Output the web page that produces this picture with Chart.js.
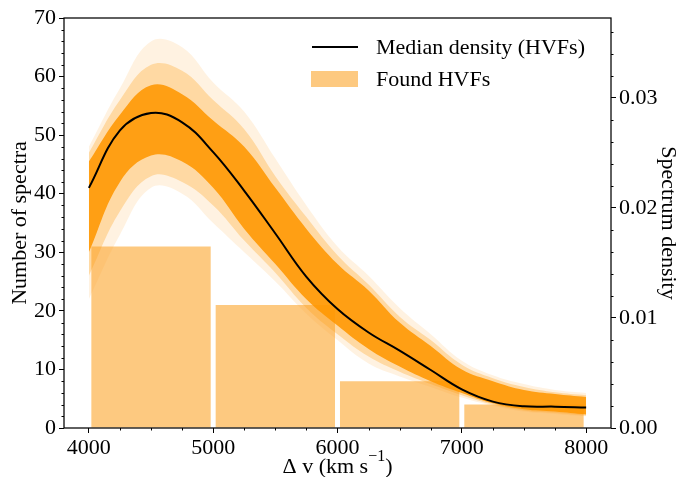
<!DOCTYPE html>
<html>
<head>
<meta charset="utf-8">
<script src="https://cdn.jsdelivr.net/npm/chart.js@4"></script>
<style>
  body { margin: 0; background: #fff; }
</style>
</head>
<body>
<canvas id="hvfChart" width="681" height="477"></canvas>
<script>
// Histogram of found HVFs (counts per 1000 km/s bin)
const binCenters = [4500, 5500, 6500, 7500];
const binCounts = [31, 21, 8, 4];

// Density curves sampled every 250 km/s (right axis)
const velGrid = [4000, 4250, 4500, 4750, 5000, 5250, 5500, 5750, 6000, 6250, 6500, 6750, 7000, 7250, 7500, 7750, 8000];
const medianDensity = [0.02183, 0.02705, 0.02864, 0.02779, 0.02508, 0.02156, 0.01768, 0.01374, 0.01081, 0.00868, 0.00703, 0.00527, 0.00351, 0.00240, 0.00197, 0.00194, 0.00186];
// dense core of the bootstrap curves
const coreUpper = [0.02422, 0.02848, 0.03115, 0.03035, 0.02795, 0.02556, 0.02183, 0.01810, 0.01491, 0.01251, 0.00958, 0.00745, 0.00532, 0.00426, 0.00346, 0.00309, 0.00282];
const coreLower = [0.01597, 0.02236, 0.02476, 0.02422, 0.02183, 0.01810, 0.01491, 0.01171, 0.00932, 0.00719, 0.00559, 0.00426, 0.00319, 0.00224, 0.00170, 0.00149, 0.00122];
// medium density zone
const midUpper = [0.02502, 0.02981, 0.03301, 0.03248, 0.02981, 0.02715, 0.02289, 0.01917, 0.01571, 0.01304, 0.01012, 0.00799, 0.00575, 0.00453, 0.00373, 0.00325, 0.00298];
const midLower = [0.01384, 0.01970, 0.02289, 0.02236, 0.02023, 0.01704, 0.01411, 0.01091, 0.00852, 0.00650, 0.00511, 0.00399, 0.00298, 0.00213, 0.00160, 0.00138, 0.00112];
// faint outliers
const outerUpper = [0.02556, 0.03088, 0.03514, 0.03461, 0.03141, 0.02875, 0.02449, 0.02023, 0.01650, 0.01384, 0.01091, 0.00852, 0.00612, 0.00479, 0.00399, 0.00346, 0.00319];
const outerLower = [0.01171, 0.01757, 0.02183, 0.02130, 0.01863, 0.01597, 0.01331, 0.01038, 0.00799, 0.00586, 0.00469, 0.00373, 0.00277, 0.00202, 0.00149, 0.00128, 0.00106];

// Axis ticks
const xTicks = [4000, 5000, 6000, 7000, 8000];
const countTicks = [0, 10, 20, 30, 40, 50, 60, 70];
const densityTicks = [0, 0.01, 0.02, 0.03];

const pts = arr => velGrid.map((v, i) => ({ x: v, y: arr[i] }));
const keepTicks = list => scale => {
    scale.ticks = list.map(v => ({ value: v }));
};

const SERIF = "'Liberation Serif', 'Times New Roman', serif";
Chart.defaults.font.family = SERIF;
Chart.defaults.font.size = 22;
Chart.defaults.color = '#000';

// minor ticks + frame, matplotlib style
const frameAndMinor = {
    id: 'frameAndMinor',
    afterDraw(chart) {
        const { ctx, chartArea: a, scales } = chart;
        ctx.save();
        ctx.strokeStyle = '#000';
        ctx.lineWidth = 1;
        ctx.beginPath();
        for (let v = 3750; v <= 8250; v += 250) {
            if (v < scales.x.min || v > scales.x.max || v % 1000 === 0) continue;
            const px = Math.round(scales.x.getPixelForValue(v)) + 0.5;
            ctx.moveTo(px, a.bottom); ctx.lineTo(px, a.bottom + 2.5);
        }
        for (let v = 0; v <= 70; v += 2) {
            if (v % 10 === 0) continue;
            const py = Math.round(scales.y.getPixelForValue(v)) + 0.5;
            ctx.moveTo(a.left, py); ctx.lineTo(a.left - 2.5, py);
        }
        for (let i = 0; i <= 18; i++) {
            if (i % 5 === 0) continue;
            const py = Math.round(scales.y2.getPixelForValue(i * 0.002)) + 0.5;
            ctx.moveTo(a.right, py); ctx.lineTo(a.right + 2.5, py);
        }
        ctx.stroke();
        ctx.lineWidth = 1.25;
        ctx.strokeRect(a.left, a.top, a.right - a.left, a.bottom - a.top);

        // x axis title with a real superscript
        const main = 'Δ v (km s', sup = '−1', close = ')';
        ctx.fillStyle = '#000';
        ctx.textBaseline = 'alphabetic';
        ctx.font = '22px ' + SERIF;
        const wMain = ctx.measureText(main).width, wClose = ctx.measureText(close).width;
        ctx.font = '16px ' + SERIF;
        const wSup = ctx.measureText(sup).width;
        let x = (a.left + a.right) / 2 - (wMain + wSup + wClose) / 2;
        ctx.font = '22px ' + SERIF;
        ctx.fillText(main, x, 473);
        x += wMain;
        ctx.font = '16px ' + SERIF;
        ctx.fillText(sup, x, 461);
        x += wSup;
        ctx.font = '22px ' + SERIF;
        ctx.fillText(close, x, 473);
        ctx.restore();
    }
};

// legend inside the plot, top right
const innerLegend = {
    id: 'innerLegend',
    afterDatasetsDraw(chart) {
        const { ctx, chartArea: a } = chart;
        const ds = chart.data.datasets;
        const med = ds.find(d => d.label === 'Median density (HVFs)');
        const bars = ds.find(d => d.label === 'Found HVFs');
        const x0 = a.right - 299;
        ctx.save();
        ctx.font = '22px ' + SERIF;
        ctx.textBaseline = 'middle';
        ctx.fillStyle = '#000';
        ctx.strokeStyle = med.borderColor;
        ctx.lineWidth = med.borderWidth;
        ctx.beginPath();
        ctx.moveTo(x0, a.top + 29); ctx.lineTo(x0 + 46, a.top + 29);
        ctx.stroke();
        ctx.fillText(med.label, x0 + 64, a.top + 30);
        ctx.fillStyle = bars.backgroundColor;
        ctx.fillRect(x0 - 1, a.top + 53, 47, 16);
        ctx.fillStyle = '#000';
        ctx.fillText(bars.label, x0 + 64, a.top + 62);
        ctx.restore();
    }
};

const bandLine = (label, arr, fill, color, order) => ({
    type: 'line',
    label: label,
    data: pts(arr),
    yAxisID: 'y2',
    borderWidth: 0,
    pointRadius: 0,
    fill: fill,
    backgroundColor: color,
    tension: 0.4,
    order: order
});

const ctxHvf = document.getElementById('hvfChart').getContext('2d');
new Chart(ctxHvf, {
    type: 'bar',
    data: {
        datasets: [
            {
                type: 'bar',
                label: 'Found HVFs',
                data: binCenters.map((c, i) => ({ x: c, y: binCounts[i] })),
                backgroundColor: '#fdc980',
                barPercentage: 0.96,
                categoryPercentage: 1,
                yAxisID: 'y',
                order: 10
            },
            bandLine('outer upper', outerUpper, '+1', 'rgba(255,165,40,0.14)', 7),
            bandLine('outer lower', outerLower, false, 'transparent', 7),
            bandLine('mid upper', midUpper, '+1', 'rgba(255,160,20,0.3)', 6),
            bandLine('mid lower', midLower, false, 'transparent', 6),
            bandLine('core upper', coreUpper, '+1', 'rgba(255,150,0,0.88)', 5),
            bandLine('core lower', coreLower, false, 'transparent', 5),
            {
                type: 'line',
                label: 'Median density (HVFs)',
                data: pts(medianDensity),
                yAxisID: 'y2',
                borderColor: '#000',
                borderWidth: 2,
                pointRadius: 0,
                fill: false,
                tension: 0.4,
                order: 0
            }
        ]
    },
    options: {
        responsive: false,
        devicePixelRatio: 1,
        animation: false,
        layout: { padding: { top: 18, left: 0, right: 0, bottom: 0 } },
        plugins: {
            legend: { display: false },
            tooltip: { enabled: false }
        },
        scales: {
            x: {
                type: 'linear',
                min: 3800,
                max: 8200,
                offset: false,
                afterBuildTicks: keepTicks(xTicks),
                afterFit: s => { s.height = 49; },
                ticks: { padding: 2, maxRotation: 0, callback: v => String(v) },
                grid: { offset: false, drawOnChartArea: false, tickLength: 5, tickColor: '#000' },
                border: { display: false },
                title: { display: false }
            },
            y: {
                position: 'left',
                min: 0,
                max: 70,
                afterBuildTicks: keepTicks(countTicks),
                afterFit: s => { s.width = 64; },
                ticks: { padding: 3 },
                grid: { drawOnChartArea: false, tickLength: 5, tickColor: '#000' },
                border: { display: false },
                title: { display: true, text: 'Number of spectra', font: { size: 22, lineHeight: 1 }, padding: { top: 9, bottom: 0 } }
            },
            y2: {
                position: 'right',
                min: 0,
                max: 0.03727,
                afterBuildTicks: keepTicks(densityTicks),
                afterFit: s => { s.width = 70; },
                ticks: { padding: 3, callback: v => v.toFixed(2) },
                grid: { drawOnChartArea: false, tickLength: 5, tickColor: '#000' },
                border: { display: false },
                title: { display: true, text: 'Spectrum density', font: { size: 22, lineHeight: 1 }, padding: { top: 2, bottom: 0 } }
            }
        }
    },
    plugins: [frameAndMinor, innerLegend]
});
</script>
</body>
</html>
